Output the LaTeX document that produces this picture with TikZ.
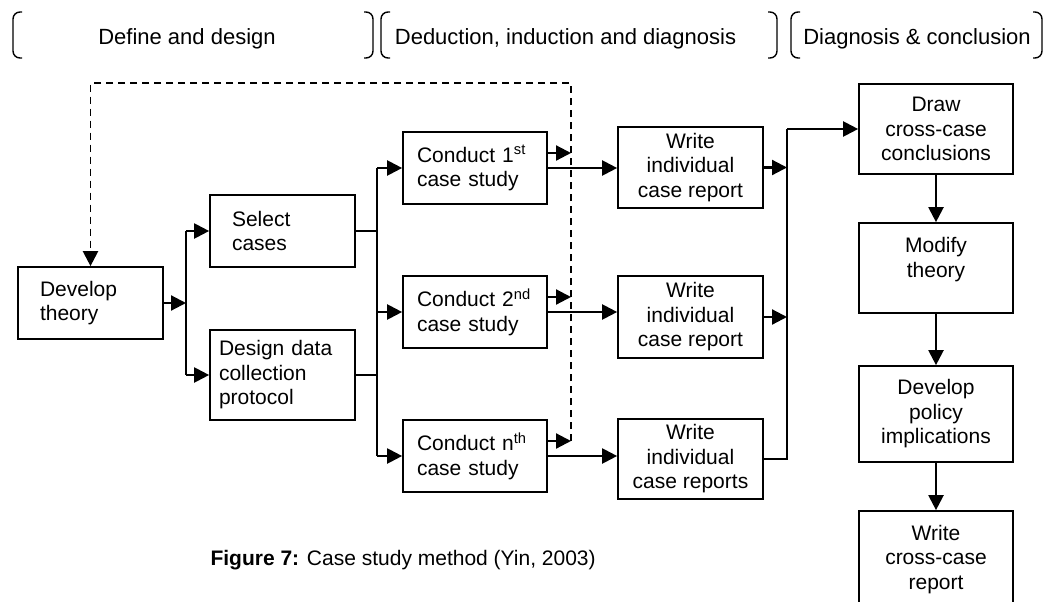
\documentclass[tikz,border=0pt]{standalone}
\usepackage{fontspec}
\setmainfont{Liberation Sans}
\usetikzlibrary{arrows.meta}

\newcommand{\boxfont}{\fontsize{21}{24.5}\selectfont}
\newcommand{\headfont}{\fontsize{22}{26}\selectfont}

\begin{document}
\begin{tikzpicture}[x=1pt, y=-1pt,
  box/.style={draw, line width=1.7pt, font=\boxfont, inner ysep=2pt},
  lbox/.style={box, align=left, minimum height=#1},
  cbox/.style={box, align=center, minimum width=145pt, minimum height=#1, inner xsep=2pt},
  rbox/.style={box, align=center, minimum width=154pt, minimum height=#1, inner xsep=2pt},
  conn/.style={line width=2.2pt},
  thin/.style={line width=1.5pt},
  arr/.style={conn, -{Triangle[length=15pt, width=15pt]}},
  fb/.style={line width=1.8pt, dash pattern=on 7pt off 5pt},
  brk/.style={line width=1.4pt, rounded corners=7pt},
  head/.style={font=\headfont, anchor=base}
]
\useasboundingbox (0,0) rectangle (1049,602);

% phase headings with their brackets
\node[head] (h1) at (187,45) {Define and design};
\node[head] (h2) at (565.5,45) {Deduction, induction and diagnosis};
\node[head] (h3) at (917,45) {Diagnosis \& conclusion};
\draw[brk] (22,12) -| (13,58) -- (22,58);
\draw[brk] (364,12) -| (373,58) -- (364,58);
\draw[brk] (390,12) -| (381,58) -- (390,58);
\draw[brk] (768,12) -| (777,58) -- (768,58);
\draw[brk] (800,12) -| (791,58) -- (800,58);
\draw[brk] (1033,12) -| (1042,58) -- (1033,58);

% define and design
\node[lbox=72pt, inner xsep=22pt, text width=101pt] (theory) at (90.5,303) {Develop\\theory};
\node[lbox=72pt, inner xsep=22pt, text width=101pt] (select) at (282.5,231) {Select\\cases};
\node[lbox=90pt, inner xsep=9pt, text width=127pt] (design) at (282.5,375) {Design data\\collection\\protocol};

% case studies
\node[lbox=72pt, inner xsep=14pt, text width=116pt] (c1) at (475,168) {Conduct 1\textsuperscript{st}\\case study};
\node[lbox=72pt, inner xsep=14pt, text width=116pt] (c2) at (475,312) {Conduct 2\textsuperscript{nd}\\case study};
\node[lbox=72pt, inner xsep=14pt, text width=116pt] (cn) at (475,456) {Conduct n\textsuperscript{th}\\case study};

% individual reports
\node[cbox=81pt] (w1) at (690.5,167.5) {Write\\individual\\case report};
\node[cbox=82pt] (w2) at (690.5,317) {Write\\individual\\case report};
\node[cbox=80pt] (w3) at (690.5,459) {Write\\individual\\case reports};

% cross-case column
\node[rbox=90pt] (draw) at (936,129) {Draw\\cross-case\\conclusions};
\node[rbox=90pt] (modify) at (936,268) {};
\node[font=\boxfont, align=center] (modifytext) at (936,259.5) {Modify\\theory};
\node[rbox=96pt] (policy) at (936,414) {Develop\\policy\\implications};
\node[rbox=97pt] (report) at (936,559.5) {Write\\cross-case\\report};

% caption
\node[font=\fontsize{21}{25}\selectfont, anchor=base west] (caption) at (207,565)
  {\textbf{Figure 7:} Case study method (Yin, 2003)};

% junction points
\coordinate (j1) at (186,303);
\coordinate (j2) at (377,300);
\coordinate (j3) at (787,300);
\coordinate (fbx) at (571,300);
\coordinate (fbtr) at (571,83);
\coordinate (fbtl) at (90.5,83);

% develop theory -> select / design
\draw[arr] (theory.east) -- (j1);
\draw[conn] (select.west -| j1) -- (design.west -| j1);
\draw[arr] (select.west -| j1) -- (select.west);
\draw[arr] (design.west -| j1) -- (design.west);

% select / design -> case studies
\draw[thin] (select.east) -- (select.east -| j2);
\draw[thin] (design.east) -- (design.east -| j2);
\draw[conn] (c1.west -| j2) -- (cn.west -| j2);
\foreach \c in {c1,c2,cn} {
  \draw[arr] (\c.west -| j2) -- (\c.west);
  \draw[arr] (\c.east) -- (\c.east -| w1.west);
  \draw[arr] ([yshift=15pt]\c.east) -- ([yshift=15pt]\c.east -| fbx);
}

% feedback loop to theory
\draw[fb] ([yshift=15pt]cn.east -| fbx) -- (fbtr) -- (fbtl) -- ([yshift=14pt]theory.north);
\draw[arr] ([yshift=15pt]theory.north) -- (theory.north);

% individual reports -> cross-case conclusions
\draw[arr] (w1.east) -- (w1.east -| j3);
\draw[arr] (w2.east) -- (w2.east -| j3);
\draw[conn] (w3.east) -- (w3.east -| j3) -- (draw.west -| j3);
\draw[arr] (draw.west -| j3) -- (draw.west);

% cross-case column
\draw[arr] (draw.south) -- (modify.north);
\draw[arr] (modify.south) -- (policy.north);
\draw[arr] (policy.south) -- (report.north);
\end{tikzpicture}
\end{document}
